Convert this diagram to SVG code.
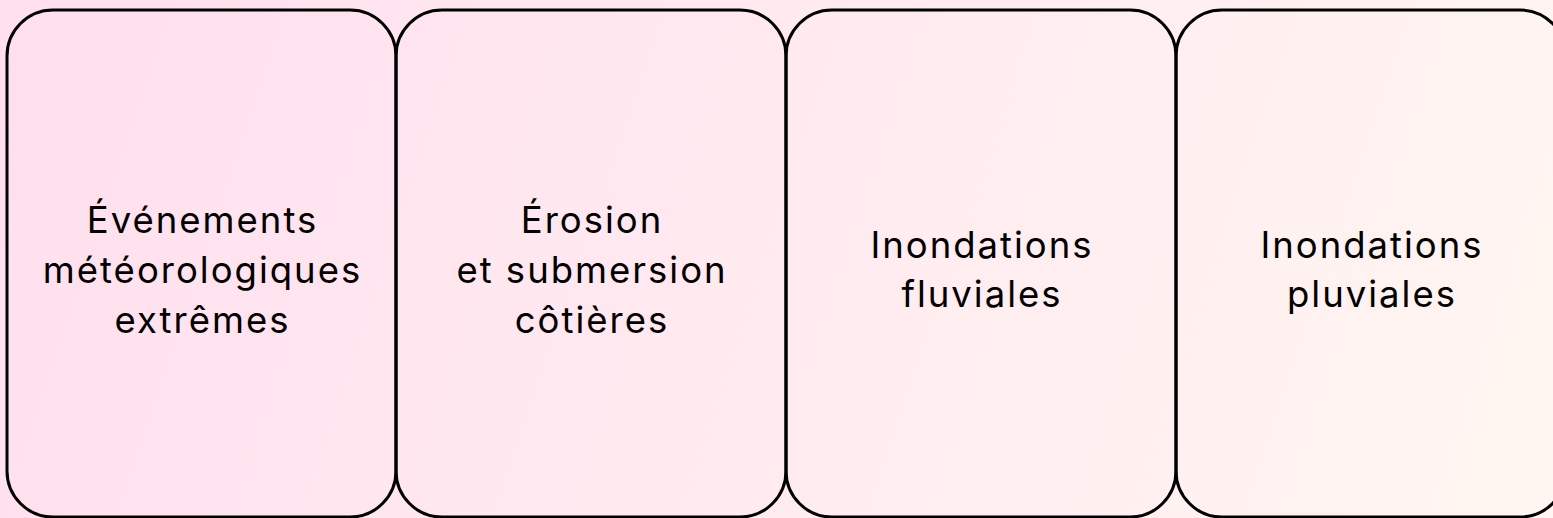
<svg xmlns="http://www.w3.org/2000/svg" width="1553" height="518" viewBox="0 0 1553 518">
<defs>
<linearGradient id="bg" x1="0" y1="0" x2="1553" y2="518" gradientUnits="userSpaceOnUse">
<stop offset="0" stop-color="#FFDFEE"/>
<stop offset="1" stop-color="#FFF6F1"/>
</linearGradient>
<style>
.box{fill:none;stroke:#000;stroke-width:3}
.t{font-family:Inter,"Liberation Sans",sans-serif;font-size:36.5px;fill:#000;text-anchor:middle;letter-spacing:2px}
</style>
</defs>
<rect width="1553" height="518" fill="url(#bg)"/>
<g id="n1"><rect class="box" x="7" y="10" width="389" height="507" rx="46"/>
<text class="t"><tspan x="202.5" y="233">Événements</tspan><tspan x="202.5" y="283">météorologiques</tspan><tspan x="202.5" y="333">extrêmes</tspan></text></g>
<g id="n2"><rect class="box" x="396" y="10" width="390" height="507" rx="46"/>
<text class="t"><tspan x="592" y="233">Érosion</tspan><tspan x="592" y="283">et submersion</tspan><tspan x="592" y="333">côtières</tspan></text></g>
<g id="n3"><rect class="box" x="786" y="10" width="390" height="507" rx="46"/>
<text class="t"><tspan x="982" y="258">Inondations</tspan><tspan x="982" y="307">fluviales</tspan></text></g>
<g id="n4"><rect class="box" x="1176" y="10" width="390" height="507" rx="46"/>
<text class="t"><tspan x="1372" y="258">Inondations</tspan><tspan x="1372" y="307">pluviales</tspan></text></g>
<g id="connectors"/>
</svg>
